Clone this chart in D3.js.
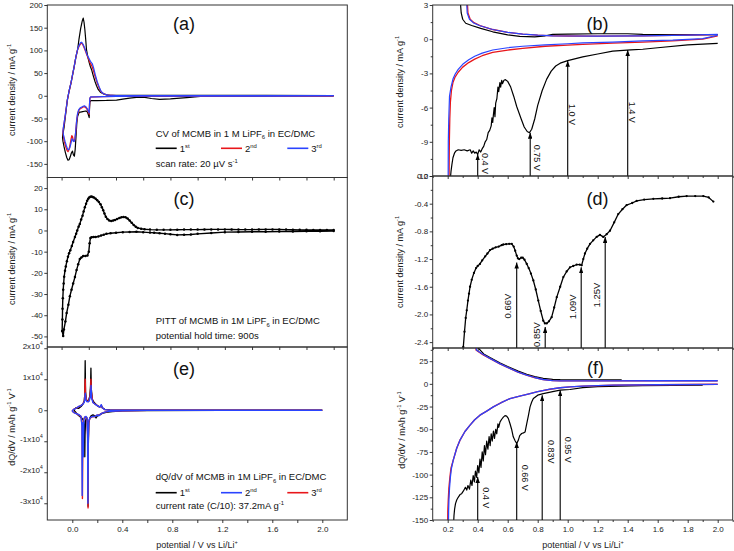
<!DOCTYPE html>
<html><head><meta charset="utf-8">
<script src="https://cdn.jsdelivr.net/npm/d3@7"></script>
<style>
body{margin:0;background:#fff}
svg{display:block;font-family:"Liberation Sans",Arial,sans-serif}
</style></head><body>
<svg id="c" width="734" height="551"></svg>
<script>
// ================= DATA =================
// (a) CV of MCMB [potential V, current mA/g]
const cvFirst = [[2.0,-0.3],[1.6,-0.5],[1.2,-1],[1.02,-1.5],[0.92,-4],[0.87,-5],[0.8,-7],[0.72,-8.1],[0.66,-6],[0.6,-2.9],[0.55,-3.5],[0.5,-5],[0.45,-7.5],[0.404,-9.5],[0.33,-10.3],[0.26,-10.5],[0.215,-10.5],[0.208,-14],[0.205,-30],[0.203,-48],[0.197,-42],[0.19,-36],[0.183,-34],[0.17,-34],[0.155,-35],[0.14,-36],[0.13,-36],[0.118,-45],[0.112,-60],[0.106,-90],[0.1,-118],[0.094,-133],[0.087,-130],[0.08,-122],[0.072,-126],[0.063,-135],[0.055,-141],[0.047,-142],[0.038,-136],[0.028,-125],[0.018,-112],[0.01,-100],[0.007,-92],[0.009,-85],[0.018,-70],[0.028,-45],[0.042,-10],[0.055,10],[0.069,28],[0.08,45],[0.093,65],[0.105,85],[0.118,102],[0.128,125],[0.14,148],[0.152,165],[0.159,171],[0.165,162],[0.171,146],[0.177,125],[0.183,102],[0.193,85],[0.203,73],[0.212,64],[0.22,58],[0.232,45],[0.245,32],[0.257,22],[0.269,14],[0.285,8],[0.306,4.5],[0.33,2],[0.36,0.8],[0.6,0.8],[1.0,1],[1.5,0.8],[2.0,0.5]];
const cvSecond = [[2.0,-0.5],[1.5,-0.8],[1.0,-1],[0.6,-1.2],[0.4,-1.5],[0.3,-2],[0.25,-2.5],[0.213,-3],[0.208,-6],[0.205,-22],[0.203,-41],[0.197,-36],[0.188,-30],[0.178,-26],[0.168,-24],[0.158,-24.5],[0.147,-27],[0.135,-29],[0.125,-33],[0.117,-42],[0.11,-58],[0.104,-80],[0.098,-96],[0.092,-100],[0.086,-99],[0.08,-90],[0.075,-88],[0.07,-95],[0.062,-108],[0.055,-118],[0.047,-123],[0.04,-120],[0.03,-112],[0.02,-100],[0.013,-88],[0.01,-80],[0.012,-74],[0.018,-62],[0.025,-48],[0.033,-30],[0.042,-10],[0.055,10],[0.069,28],[0.08,45],[0.093,65],[0.105,85],[0.118,102],[0.13,110],[0.14,115],[0.148,116],[0.157,112],[0.166,106],[0.176,98],[0.188,88],[0.2,80],[0.21,72],[0.222,66],[0.232,58],[0.245,44],[0.26,30],[0.275,18],[0.29,9],[0.31,4],[0.34,1.5],[0.4,0.5],[0.8,0.3],[1.5,0.2],[2.0,0.2]];
const cvThird = [[2.0,-0.3],[1.5,-0.6],[1.0,-0.8],[0.6,-1],[0.4,-1.3],[0.3,-1.8],[0.25,-2.2],[0.213,-2.6],[0.208,-5],[0.205,-20],[0.203,-38],[0.197,-34],[0.188,-28],[0.178,-24],[0.168,-22],[0.158,-23],[0.147,-25],[0.135,-27],[0.125,-31],[0.117,-40],[0.11,-56],[0.104,-78],[0.098,-95],[0.092,-101],[0.086,-100],[0.08,-95],[0.075,-96],[0.068,-106],[0.06,-115],[0.052,-119],[0.045,-118],[0.035,-110],[0.025,-100],[0.015,-88],[0.01,-78],[0.013,-70],[0.019,-58],[0.026,-45],[0.034,-28],[0.043,-8],[0.056,12],[0.07,30],[0.081,47],[0.094,67],[0.106,87],[0.119,104],[0.13,112],[0.14,117],[0.148,118],[0.157,114],[0.166,108],[0.176,100],[0.188,90],[0.2,83],[0.212,76],[0.225,71],[0.235,62],[0.248,46],[0.262,31],[0.277,19],[0.292,9],[0.312,4],[0.34,1.5],[0.4,0.6],[0.8,0.4],[1.5,0.3],[2.0,0.3]];

// (c) PITT [V, mA/g]
const pittData = [[2.0,-0.3],[1.9,-0.4],[1.8,-0.4],[1.7,-0.5],[1.6,-0.5],[1.5,-0.6],[1.4,-0.6],[1.3,-0.7],[1.2,-0.8],[1.1,-1.2],[1.0,-1.6],[0.95,-1.9],[0.9,-2],[0.85,-2.1],[0.8,-1.8],[0.76,-1.5],[0.72,-1.3],[0.68,-1.1],[0.65,-1],[0.6,-0.8],[0.55,-0.6],[0.5,-0.7],[0.45,-0.8],[0.4,-1.1],[0.36,-1.3],[0.33,-1.6],[0.31,-2],[0.29,-2.4],[0.27,-2.8],[0.25,-3.1],[0.235,-3.1],[0.22,-3.2],[0.212,-3.6],[0.206,-6],[0.2,-10],[0.19,-11.8],[0.175,-12],[0.159,-12.1],[0.145,-12.8],[0.134,-13.5],[0.122,-16],[0.11,-18.7],[0.098,-22],[0.085,-25],[0.073,-28],[0.061,-31],[0.05,-35],[0.037,-39],[0.028,-43],[0.017,-46.7],[0.012,-49.8],[0.004,-47.5],[0.006,-42],[0.007,-37],[0.009,-32],[0.012,-28],[0.015,-25],[0.019,-21.8],[0.025,-19],[0.031,-17],[0.039,-14.5],[0.047,-12.4],[0.055,-10.8],[0.064,-9.3],[0.075,-7.3],[0.085,-5.4],[0.098,-3.1],[0.107,-1.5],[0.115,0],[0.125,1.8],[0.134,3.1],[0.144,5.2],[0.154,7],[0.162,9],[0.171,10.9],[0.18,12.6],[0.188,14],[0.196,15],[0.203,15.6],[0.212,15.9],[0.22,16],[0.228,15.8],[0.237,15.6],[0.25,15],[0.262,14.3],[0.274,13.4],[0.286,12.4],[0.296,11],[0.306,9.6],[0.315,8],[0.325,6.5],[0.337,5.4],[0.35,4.7],[0.365,4.5],[0.379,4.7],[0.393,5],[0.408,5.4],[0.425,5.9],[0.44,6.2],[0.455,6.3],[0.47,6.2],[0.485,5.6],[0.5,4.7],[0.515,3.6],[0.53,2.6],[0.545,1.8],[0.56,1.2],[0.585,0.8],[0.61,0.6],[0.65,0.4],[0.7,0.3],[0.75,0.3],[0.8,0.3],[0.85,0.35],[0.9,0.4],[0.95,0.4],[1.0,0.4],[1.05,0.45],[1.1,0.5],[1.15,0.5],[1.2,0.5],[1.25,0.45],[1.3,0.4],[1.35,0.4],[1.4,0.4],[1.45,0.45],[1.5,0.5],[1.55,0.5],[1.6,0.5],[1.65,0.4],[1.7,0.35],[1.75,0.3],[1.8,0.3],[1.85,0.25],[1.9,0.2],[1.95,0.2],[2.0,0.2]];

// (e) dQ/dV [V, mAh g-1 V-1]
const dqFirst = [[2.0,0],[1.2,0],[0.6,-100],[0.4,-200],[0.32,-400],[0.27,-700],[0.24,-1000],[0.22,-1400],[0.2,-1800],[0.19,-2500],[0.18,-1800],[0.165,-1500],[0.15,-1800],[0.14,-2500],[0.132,-4000],[0.128,-12000],[0.126,-31000],[0.124,-9000],[0.12,-3000],[0.112,-2500],[0.106,-3500],[0.102,-8000],[0.1,-15000],[0.098,-6000],[0.092,-3500],[0.085,-3000],[0.075,-2500],[0.06,-2000],[0.045,-1500],[0.03,-800],[0.02,-300],[0.015,0],[0.02,500],[0.03,800],[0.05,600],[0.07,1200],[0.085,2000],[0.095,3000],[0.1,5000],[0.103,16000],[0.106,6000],[0.112,3500],[0.12,3000],[0.13,3200],[0.14,4500],[0.146,8000],[0.149,13600],[0.152,7000],[0.16,3500],[0.175,2500],[0.2,1500],[0.22,1000],[0.232,1500],[0.24,800],[0.26,300],[0.3,100],[0.5,0],[2.0,0]];
const dqSecond = [[2.0,0],[1.2,0],[0.6,-50],[0.4,-150],[0.3,-300],[0.26,-600],[0.235,-1000],[0.22,-1500],[0.21,-1800],[0.2,-1500],[0.19,-1800],[0.18,-2000],[0.165,-2000],[0.15,-2200],[0.14,-2600],[0.132,-3500],[0.128,-9000],[0.125,-30000],[0.122,-8000],[0.118,-2500],[0.11,-2000],[0.1,-2200],[0.093,-3000],[0.088,-15000],[0.085,-4000],[0.082,-9000],[0.079,-27500],[0.077,-5000],[0.07,-2000],[0.055,-1500],[0.04,-1200],[0.025,-1000],[0.015,-800],[0.005,-500],[0.0,-200],[0.01,300],[0.02,400],[0.035,800],[0.05,1200],[0.07,1500],[0.085,2000],[0.095,2500],[0.1,3500],[0.104,5500],[0.108,3500],[0.115,2800],[0.125,2700],[0.135,3000],[0.145,4500],[0.15,8000],[0.154,4000],[0.165,2500],[0.18,2000],[0.2,1500],[0.22,1000],[0.232,1800],[0.24,800],[0.26,200],[0.3,50],[0.5,0],[2.0,0]];
const dqThird = [[2.0,0],[1.2,0],[0.6,-50],[0.4,-150],[0.3,-300],[0.26,-600],[0.235,-1000],[0.22,-1500],[0.2,-1600],[0.18,-2000],[0.16,-2100],[0.14,-2600],[0.132,-4000],[0.128,-10000],[0.126,-31500],[0.123,-9000],[0.118,-2500],[0.1,-2200],[0.09,-3000],[0.085,-6000],[0.081,-28500],[0.078,-5000],[0.07,-2000],[0.05,-1500],[0.03,-1000],[0.015,-800],[0.005,-500],[0.0,-200],[0.01,300],[0.03,700],[0.06,1300],[0.085,2000],[0.097,3000],[0.1,5000],[0.103,10000],[0.106,5000],[0.115,3000],[0.13,2800],[0.142,4500],[0.147,7000],[0.149,10000],[0.152,6000],[0.165,2500],[0.2,1500],[0.22,1000],[0.232,1600],[0.24,800],[0.26,200],[0.3,50],[0.5,0],[2.0,0]];

// (b) CV zoom [V, mA/g]
const bFirstLower = [[2.0,-0.36],[1.8,-0.5],[1.6,-0.75],[1.5,-0.88],[1.42,-0.94],[1.3,-1.05],[1.2,-1.3],[1.1,-1.55],[1.0,-1.88],[0.95,-2.1],[0.92,-2.35],[0.89,-2.8],[0.86,-3.5],[0.83,-4.5],[0.8,-5.8],[0.78,-7.0],[0.76,-7.9],[0.745,-8.2],[0.73,-8.1],[0.71,-7.7],[0.69,-7.0],[0.66,-5.9],[0.64,-5.0],[0.62,-4.2],[0.6,-3.7],[0.585,-3.55],[0.575,-3.6],[0.565,-3.9],[0.56,-3.6],[0.553,-4.2],[0.548,-3.8],[0.54,-4.6],[0.535,-4.2],[0.528,-5.2],[0.52,-5.6],[0.515,-6.8],[0.51,-6.0],[0.505,-6.6],[0.5,-7.3],[0.495,-6.9],[0.49,-7.6],[0.48,-8.0],[0.47,-8.2],[0.46,-8.8],[0.45,-9.0],[0.44,-9.4],[0.43,-9.6],[0.42,-9.9],[0.41,-9.7],[0.4,-10.1],[0.39,-9.9],[0.38,-10.0],[0.37,-9.8],[0.36,-10.0],[0.35,-9.7],[0.33,-9.8],[0.31,-9.7],[0.29,-9.75],[0.27,-9.7],[0.255,-9.8],[0.245,-10.0],[0.235,-10.4],[0.228,-11.0],[0.222,-11.6],[0.218,-12.2]];
const bFirstUpper = [[0.283,3.5],[0.29,2.3],[0.3,1.75],[0.32,1.4],[0.36,1.2],[0.42,0.95],[0.5,0.65],[0.6,0.38],[0.68,0.25],[0.78,0.2],[0.85,0.3],[0.9,0.42],[1.0,0.45],[1.2,0.48],[1.4,0.48],[1.5,0.42],[1.7,0.4],[2.0,0.4]];
const bSecondLower = [[2.0,0.3],[1.9,0.0],[1.7,-0.15],[1.5,-0.25],[1.3,-0.35],[1.1,-0.45],[1.0,-0.52],[0.85,-0.62],[0.7,-0.8],[0.6,-0.95],[0.5,-1.15],[0.43,-1.45],[0.38,-1.75],[0.34,-2.05],[0.3,-2.45],[0.27,-2.9],[0.25,-3.3],[0.235,-3.8],[0.225,-4.5],[0.218,-5.5],[0.214,-7],[0.211,-9],[0.209,-12.2]];
const bSecondUpper = [[0.33,3.5],[0.335,2.3],[0.35,1.75],[0.375,1.45],[0.415,1.2],[0.5,0.85],[0.6,0.6],[0.7,0.45],[0.8,0.35],[0.9,0.3],[1.0,0.28],[1.2,0.27],[1.5,0.3],[1.8,0.35],[2.0,0.4]];
const bThirdLower = [[2.0,0.35],[1.9,0.05],[1.7,-0.08],[1.5,-0.15],[1.3,-0.25],[1.1,-0.33],[1.0,-0.4],[0.85,-0.5],[0.7,-0.62],[0.6,-0.75],[0.5,-0.95],[0.43,-1.22],[0.38,-1.5],[0.34,-1.8],[0.3,-2.2],[0.27,-2.65],[0.25,-3.05],[0.235,-3.5],[0.222,-4.2],[0.212,-5.0],[0.207,-7],[0.204,-9],[0.203,-12.2]];
const bThirdUpper = [[0.325,3.5],[0.33,2.3],[0.345,1.75],[0.37,1.45],[0.41,1.2],[0.5,0.85],[0.6,0.6],[0.7,0.45],[0.8,0.35],[0.9,0.3],[1.0,0.28],[1.2,0.27],[1.5,0.3],[1.8,0.35],[2.0,0.42]];
const bArrowV = [0.4, 0.75, 1.0, 1.4];
const bArrowTip = [-10.1, -8.2, -1.9, -0.95];
const bArrowLabels = ["0.4 V", "0.75 V", "1.0 V", "1.4 V"];
const bLabelAt = [-10.9, -10.4, -6.6, -6.4];

// (d) PITT zoom [V, mA/g]
const dData = [[0.3,-2.6],[0.304,-2.47],[0.312,-2.25],[0.32,-2.05],[0.327,-1.94],[0.335,-1.8],[0.342,-1.7],[0.349,-1.6],[0.36,-1.5],[0.375,-1.4],[0.389,-1.33],[0.4,-1.3],[0.415,-1.27],[0.43,-1.22],[0.45,-1.16],[0.465,-1.12],[0.482,-1.07],[0.5,-1.05],[0.52,-1.03],[0.54,-1.02],[0.56,-1.0],[0.571,-0.99],[0.59,-0.985],[0.61,-0.98],[0.627,-0.98],[0.64,-1.02],[0.65,-1.08],[0.66,-1.15],[0.668,-1.19],[0.677,-1.2],[0.69,-1.18],[0.7,-1.18],[0.712,-1.21],[0.727,-1.27],[0.74,-1.33],[0.755,-1.41],[0.771,-1.51],[0.787,-1.64],[0.804,-1.8],[0.82,-1.95],[0.837,-2.09],[0.848,-2.13],[0.86,-2.13],[0.875,-2.1],[0.893,-2.04],[0.91,-1.9],[0.927,-1.75],[0.95,-1.6],[0.971,-1.46],[0.993,-1.38],[1.015,-1.32],[1.037,-1.3],[1.06,-1.28],[1.08,-1.28],[1.093,-1.29],[1.104,-1.2],[1.115,-1.12],[1.13,-1.05],[1.149,-0.98],[1.17,-0.93],[1.193,-0.88],[1.215,-0.85],[1.237,-0.88],[1.26,-0.84],[1.282,-0.79],[1.31,-0.67],[1.337,-0.55],[1.365,-0.48],[1.393,-0.42],[1.43,-0.39],[1.46,-0.36],[1.51,-0.34],[1.571,-0.33],[1.63,-0.325],[1.682,-0.32],[1.74,-0.3],[1.793,-0.29],[1.85,-0.29],[1.904,-0.29],[1.94,-0.31],[1.971,-0.37]];
const dArrowV = [0.66, 0.85, 1.09, 1.25];
const dArrowTip = [-1.25, -2.18, -1.32, -0.88];
const dArrowLabels = ["0.66V", "0.85V", "1.09V", "1.25V"];
const dLabelAt = [-1.88, -2.29, -1.89, -1.72];

// (f) dQ/dV zoom [V, mAh g-1 V-1]
const fFirstLower = [[1.9,-1.5],[1.5,-2],[1.2,-3],[1.1,-4.2],[1.015,-6.2],[0.95,-7],[0.9,-8.5],[0.837,-10.7],[0.8,-12.5],[0.771,-16.2],[0.76,-20],[0.749,-25.4],[0.738,-35],[0.727,-43.7],[0.716,-53],[0.705,-54],[0.693,-54.7],[0.68,-57],[0.671,-62],[0.66,-65.7],[0.65,-63],[0.637,-58.4],[0.626,-50],[0.615,-43.7],[0.604,-38],[0.593,-35.6],[0.582,-35],[0.571,-36.7],[0.56,-39],[0.549,-41.9],[0.54,-48],[0.535,-44],[0.527,-55],[0.52,-50],[0.512,-60],[0.505,-52],[0.497,-63],[0.49,-55],[0.483,-68],[0.476,-58],[0.468,-72],[0.46,-63],[0.452,-78],[0.445,-68],[0.437,-85],[0.43,-75],[0.422,-92],[0.415,-83],[0.408,-98],[0.4,-90],[0.393,-103],[0.385,-96],[0.378,-108],[0.37,-101],[0.362,-112],[0.354,-106],[0.345,-116],[0.335,-112],[0.327,-117],[0.318,-114],[0.305,-118],[0.293,-121],[0.282,-122],[0.27,-125],[0.26,-128],[0.252,-132],[0.246,-138],[0.242,-145],[0.239,-155]];
const fFirstUpper = [[0.39,42],[0.44,33],[0.482,29],[0.55,23],[0.615,18],[0.67,14],[0.727,10.5],[0.78,8],[0.837,6],[0.9,5],[0.95,4.6],[1.1,4.5],[1.25,4.4],[1.36,4.4]];
const fSecondLower = [[2.0,-0.5],[1.6,-1.0],[1.3,-1.5],[1.1,-2.5],[1.015,-3.3],[0.95,-4.3],[0.882,-5.9],[0.8,-8.5],[0.749,-10.7],[0.68,-13.5],[0.615,-16.2],[0.56,-20.5],[0.504,-25.4],[0.46,-30],[0.415,-34.5],[0.38,-39.5],[0.349,-45.5],[0.315,-52.5],[0.282,-62],[0.26,-71],[0.237,-84],[0.225,-93],[0.218,-102.6],[0.212,-115],[0.208,-128],[0.206,-140],[0.205,-155]];
const fSecondUpper = [[0.387,42],[0.393,37],[0.44,32],[0.482,28],[0.55,22],[0.615,17],[0.67,13],[0.727,9.6],[0.78,7],[0.837,4.8],[0.9,3.6],[0.95,3.3],[1.2,3.3],[1.6,3.4],[2.0,3.4]];
const fThirdLower = [[2.0,-0.5],[1.6,-1.0],[1.3,-1.5],[1.1,-2.5],[1.015,-3.3],[0.95,-4.3],[0.882,-5.9],[0.8,-8.5],[0.749,-10.7],[0.68,-13.5],[0.615,-16.2],[0.56,-20.5],[0.504,-25.4],[0.46,-30],[0.415,-34.5],[0.38,-39.5],[0.349,-45.5],[0.315,-52.5],[0.282,-62],[0.26,-71],[0.237,-84],[0.222,-93],[0.215,-102.6],[0.208,-115],[0.204,-128],[0.201,-140],[0.2,-155]];
const fThirdUpper = [[0.385,42],[0.39,37],[0.437,32],[0.48,28],[0.548,22],[0.613,17],[0.668,13],[0.725,9.6],[0.778,7],[0.835,4.8],[0.9,3.6],[0.95,3.3],[1.2,3.3],[1.6,3.4],[2.0,3.4]];
const fArrowV = [0.4, 0.66, 0.83, 0.95];
const fArrowTip = [-102.6, -64, -12.5, -7];
const fArrowLabels = ["0.4 V", "0.66 V", "0.83V", "0.95 V"];
const fLabelAt = [-125.5, -103.5, -74.8, -72.6];

// tick values
const aTicksY = [-150,-100,-50,0,50,100,150,200];
const cTicksY = [-50,-40,-30,-20,-10,0,10,20];
const eTicksY = [-30000,-20000,-10000,0,10000,20000];
const bTicksY = [-12,-9,-6,-3,0,3];
const dTicksY = [-2.4,-2.0,-1.6,-1.2,-0.8,-0.4,0.0];
const fTicksY = [-150,-125,-100,-75,-50,-25,0,25];
const leftTicksX = [0,0.2,0.4,0.6,0.8,1.0,1.2,1.4,1.6,1.8,2.0];
const eLabelsX = [0,0.4,0.8,1.2,1.6,2.0];
const rightTicksX = [0.2,0.4,0.6,0.8,1.0,1.2,1.4,1.6,1.8,2.0];

// ================= DRAW =================
const svg = d3.select('#c');
const defs = svg.append('defs');
const RED = '#e8161b', BLUE = '#2a44ff', BLK = '#000', AX = '#222';
const FONT = '"Liberation Sans", Arial, sans-serif';

defs.append('marker').attr('id','ah').attr('viewBox','0 0 10 10').attr('refX',10).attr('refY',5)
  .attr('markerWidth',6).attr('markerHeight',4.5).attr('markerUnits','userSpaceOnUse')
  .attr('orient','auto').attr('preserveAspectRatio','none')
  .append('path').attr('d','M0,0L10,5L0,10Z').attr('fill','#000');

function rich(t, parts, fs){
  let cur = 0;
  parts.forEach(p => {
    const s = Array.isArray(p) ? p[0] : p, k = Array.isArray(p) ? p[1] : null;
    const target = k === 'sup' ? -fs*0.42 : k === 'sub' ? fs*0.28 : 0;
    const ts = t.append('tspan').text(s).attr('dy', target - cur);
    if (k) ts.attr('font-size', fs*0.62);
    cur = target;
  });
}
function makePanel(name, xd, yd, x0, x1, y0, y1){
  const x = d3.scaleLinear().domain(xd).range([x0,x1]);
  const y = d3.scaleLinear().domain(yd).range([y1,y0]);
  defs.append('clipPath').attr('id','cl'+name).append('rect')
    .attr('x',x0).attr('y',y0).attr('width',x1-x0).attr('height',y1-y0);
  const g = svg.append('g').attr('clip-path',`url(#cl${name})`);
  return {name,x,y,x0,x1,y0,y1,g};
}
function box(p){
  svg.append('rect').attr('x',p.x0).attr('y',p.y0).attr('width',p.x1-p.x0).attr('height',p.y1-p.y0)
    .attr('fill','none').attr('stroke','#333').attr('stroke-width',1);
}
function curve(p, data, color, w){
  p.g.append('path').datum(data)
    .attr('d', d3.line().x(d=>p.x(d[0])).y(d=>p.y(d[1])))
    .attr('fill','none').attr('stroke',color).attr('stroke-width',w||1.2)
    .attr('stroke-linejoin','round');
}
function dots(p, data, r){
  p.g.append('g').selectAll('circle').data(data).join('circle')
    .attr('cx',d=>p.x(d[0])).attr('cy',d=>p.y(d[1])).attr('r',r).attr('fill','#000');
}
function styleAx(g){
  g.attr('font-family',FONT).attr('font-size',8).attr('color',AX);
  g.select('.domain').remove();
  g.selectAll('line').attr('stroke-width',0.9);
}
function yAxis(p, vals, fmt, minor){
  const g = svg.append('g').attr('transform',`translate(${p.x0},0)`)
    .call(d3.axisLeft(p.y).tickValues(vals).tickSize(3).tickPadding(1.5).tickFormat(fmt));
  styleAx(g);
  if (minor){
    const m = svg.append('g').attr('transform',`translate(${p.x0},0)`)
      .call(d3.axisLeft(p.y).tickValues(minor).tickSize(2).tickFormat(''));
    styleAx(m);
  }
  return g;
}
function xAxis(p, vals, labels, fmt, minor){
  const g = svg.append('g').attr('transform',`translate(0,${p.y1})`)
    .call(d3.axisBottom(p.x).tickValues(vals).tickSize(3).tickPadding(3)
      .tickFormat(d => labels && labels.some(v=>Math.abs(v-d)<1e-9) ? fmt(d) : ''));
  styleAx(g);
  if (minor){
    const m = svg.append('g').attr('transform',`translate(0,${p.y1})`)
      .call(d3.axisBottom(p.x).tickValues(minor).tickSize(2).tickFormat(''));
    styleAx(m);
  }
}
function yTitle(x, yc, parts){
  const t = svg.append('text').attr('transform',`translate(${x},${yc}) rotate(-90)`)
    .attr('text-anchor','middle').attr('font-size',9).attr('fill',AX);
  rich(t, parts, 9);
}
function xTitle(xc, yb){
  const t = svg.append('text').attr('x',xc).attr('y',yb).attr('text-anchor','middle')
    .attr('font-size',9).attr('fill',AX);
  rich(t, ['potential / V vs Li/Li', ['+','sup']], 9);
}
function panelLabel(xc, yb, s){
  svg.append('text').attr('x',xc).attr('y',yb).attr('text-anchor','middle')
    .attr('font-size',18).attr('fill','#111').text(s);
}
function textLine(x, yb, parts, fs){
  const t = svg.append('text').attr('x',x).attr('y',yb).attr('font-size',fs||9.5).attr('fill','#111');
  rich(t, parts, fs||9.5);
}
function legendRow(yl, items){
  items.forEach(it => {
    svg.append('line').attr('x1',it[0]).attr('x2',it[0]+21).attr('y1',yl).attr('y2',yl)
      .attr('stroke',it[1]).attr('stroke-width',1.6);
    const t = svg.append('text').attr('x',it[0]+24).attr('y',yl+3.5).attr('font-size',9.5).attr('fill','#111');
    rich(t, it[2], 9.5);
  });
}
function arrows(p, xs, tips, labels, at, rot, dx, fs){
  xs.forEach((v,i) => {
    svg.append('line').attr('x1',p.x(v)).attr('x2',p.x(v))
      .attr('y1',p.y1).attr('y2',p.y(tips[i]))
      .attr('stroke','#000').attr('stroke-width',1.1).attr('marker-end','url(#ah)');
    const cx = p.x(v) + dx[i], cy = p.y(at[i]);
    svg.append('text').attr('transform',`translate(${cx + (rot>0?-3:3)},${cy}) rotate(${rot})`)
      .attr('text-anchor','middle').attr('font-size',fs).attr('fill','#111').text(labels[i]);
  });
}
const f1 = d => d.toFixed(1);
const fi = d => String(d);

// ---------- layout ----------
const L0 = 47.3, L1 = 347.3, R0 = 432.7, R1 = 732.7;

// (a)
const pa = makePanel('a', [-0.105, 2.1], [-180, 200], L0, L1, 5, 177.5);
curve(pa, cvFirst, BLK, 1.2); curve(pa, cvSecond, RED, 1.3); curve(pa, cvThird, BLUE, 1.2);
box(pa); yAxis(pa, aTicksY, fi); xAxis(pa, leftTicksX, null, fi);
panelLabel(184, 30, '(a)');
textLine(155.7, 136.5, ['CV of MCMB in 1 M LiPF', ['6','sub'], ' in EC/DMC']);
legendRow(148.3, [[155.7, BLK, ['1', ['st','sup']]], [221, RED, ['2', ['nd','sup']]], [287.3, BLUE, ['3', ['rd','sup']]]]);
textLine(155.7, 166.5, ['scan rate: 20 µV s', ['-1','sup']]);
yTitle(15, 90, ['current density / mA g', ['-1','sup']]);

// (c)
const pc = makePanel('c', [-0.105, 2.1], [-55, 25], L0, L1, 177.5, 347);
curve(pc, pittData, BLK, 1.4); dots(pc, pittData, 1.25);
box(pc); yAxis(pc, cTicksY, fi); xAxis(pc, leftTicksX, null, fi);
panelLabel(184, 205, '(c)');
textLine(155.7, 324, ['PITT of MCMB in 1M LiPF', ['6','sub'], ' in EC/DMC']);
textLine(155.7, 339, ['potential hold time: 900s']);
yTitle(15, 259, ['current density / mA g', ['-1','sup']]);

// (e)
const pe = makePanel('e', [-0.2, 2.2], [-35400, 20400], L0, L1, 347, 520);
curve(pe, dqFirst, BLK, 1.3); curve(pe, dqThird, RED, 1.4); curve(pe, dqSecond, BLUE, 1.4);
box(pe);
const eAx = yAxis(pe, eTicksY, fi);
eAx.selectAll('.tick text').each(function(d){
  const t = d3.select(this); t.text('');
  if (d === 0) t.text('0'); else rich(t, [String(d/10000) + 'x10', ['4','sup']], 8);
});
xAxis(pe, leftTicksX, eLabelsX, f1);
panelLabel(184, 375, '(e)');
textLine(155.7, 480, ['dQ/dV of MCMB in 1M LiPF', ['6','sub'], ' in EC/DMC']);
legendRow(492.7, [[155.7, BLK, ['1', ['st','sup']]], [221, BLUE, ['2', ['nd','sup']]], [287.3, RED, ['3', ['rd','sup']]]]);
textLine(155.7, 509, ['current rate (C/10): 37.2mA g', ['-1','sup']]);
yTitle(15, 427, ['dQ/dV / mAh g', ['-1','sup'], ' V', ['-1','sup']]);
xTitle(197, 548);

// (b)
const pb = makePanel('b', [0.1, 2.1], [-12, 3], R0, R1, 5, 176);
curve(pb, bFirstUpper, BLK, 1.2); curve(pb, bFirstLower, BLK, 1.2);
curve(pb, bSecondUpper, RED, 1.3); curve(pb, bSecondLower, RED, 1.3);
curve(pb, bThirdUpper, BLUE, 1.2); curve(pb, bThirdLower, BLUE, 1.2);
box(pb);
yAxis(pb, bTicksY, fi, [-10.5,-7.5,-4.5,-1.5,1.5]);
xAxis(pb, rightTicksX, null, f1, [0.1,0.3,0.5,0.7,0.9,1.1,1.3,1.5,1.7,1.9,2.1]);
arrows(pb, bArrowV, bArrowTip, bArrowLabels, bLabelAt, 90, [7.5,7,4.5,4.5], 9);
panelLabel(597.5, 30, '(b)');
yTitle(403, 82, ['current density / mA g', ['-1','sup']]);

// (d)
const pd = makePanel('d', [0.1, 2.1], [-2.485, 0], R0, R1, 176, 348);
curve(pd, dData, BLK, 1.3); dots(pd, dData, 1.15);
box(pd);
yAxis(pd, dTicksY, f1, [-2.2,-1.8,-1.4,-1.0,-0.6,-0.2]);
xAxis(pd, rightTicksX, null, f1, [0.1,0.3,0.5,0.7,0.9,1.1,1.3,1.5,1.7,1.9,2.1]);
arrows(pd, dArrowV, dArrowTip, dArrowLabels, dLabelAt, -90, [-8.5,-8.5,-8.5,-8.5], 9.5);
panelLabel(597.5, 205, '(d)');
yTitle(403, 262, ['current density / mA g', ['-1','sup']]);

// (f)
const pf = makePanel('f', [0.1, 2.1], [-150, 39.5], R0, R1, 348, 520);
curve(pf, fFirstUpper, BLK, 1.2); curve(pf, fFirstLower, BLK, 1.2);
curve(pf, fThirdUpper, RED, 1.4); curve(pf, fThirdLower, RED, 1.4);
curve(pf, fSecondUpper, BLUE, 1.3); curve(pf, fSecondLower, BLUE, 1.3);
box(pf);
yAxis(pf, fTicksY, fi, [-137.5,-112.5,-87.5,-62.5,-37.5,-12.5,12.5,37.5]);
xAxis(pf, rightTicksX, rightTicksX, f1, [0.1,0.3,0.5,0.7,0.9,1.1,1.3,1.5,1.7,1.9,2.1]);
arrows(pf, fArrowV, fArrowTip, fArrowLabels, fLabelAt, 90, [8.5,8,9,8], 9);
panelLabel(595.5, 374, '(f)');
yTitle(405, 430, ['dQ/dV / mAh g', ['-1','sup'], ' V', ['-1','sup']]);
xTitle(583, 548);
</script>
</body></html>
